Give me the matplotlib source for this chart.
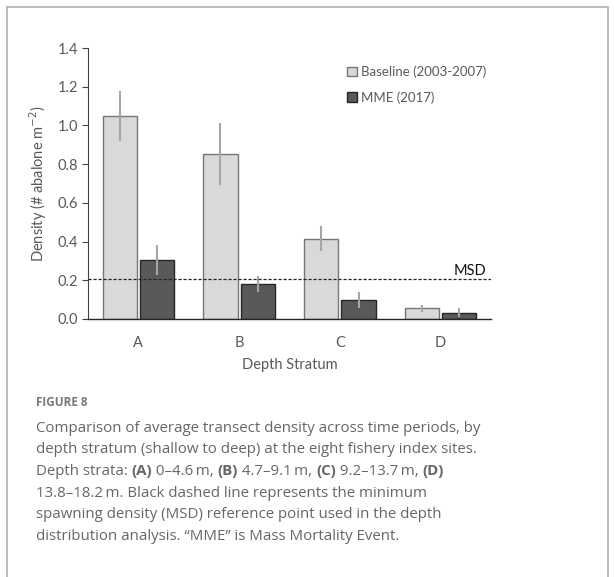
import matplotlib
matplotlib.use("Agg")
import matplotlib.pyplot as plt
import numpy as np
from matplotlib.patches import Rectangle

categories = ["A", "B", "C", "D"]
baseline = [1.05, 0.85, 0.415, 0.055]
baseline_err = [0.13, 0.16, 0.065, 0.017]
mme = [0.305, 0.18, 0.098, 0.033]
mme_err = [0.077, 0.042, 0.042, 0.022]
msd = 0.205
yticks = [0.0, 0.2, 0.4, 0.6, 0.8, 1.0, 1.2, 1.4]
series_labels = ["Baseline (2003-2007)", "MME (2017)"]

W, H = 615, 577
fig = plt.figure(figsize=(W / 100, H / 100), dpi=100)
fig.patch.set_facecolor("white")

# outer frame
fig.add_artist(Rectangle((7 / W, -0.01), (608 - 7) / W, 1 - 7 / H + 0.01,
                         transform=fig.transFigure, fill=False,
                         edgecolor="#b0b0b0", linewidth=1.2))

ax = fig.add_axes([88 / W, 1 - 319 / H, (491 - 88) / W, (319 - 48) / H])
font = "Lato"
fs = 10.5
tick_col = "#595959"

x = np.arange(len(categories))
bw = 0.34
off = 0.185
ax.bar(x - off, baseline, bw, color="#d9d9d9", edgecolor="#767676", linewidth=1.0,
       label=series_labels[0], zorder=2)
ax.bar(x + off, mme, bw, color="#595959", edgecolor="#262626", linewidth=1.0,
       label=series_labels[1], zorder=2)
ax.errorbar(x - off, baseline, yerr=baseline_err, fmt="none", ecolor="#a6a6a6",
            elinewidth=1.5, capsize=0, zorder=3)
ax.errorbar(x + off, mme, yerr=mme_err, fmt="none", ecolor="#a6a6a6",
            elinewidth=1.5, capsize=0, zorder=3)
ax.axhline(msd, color="#222222", linestyle=(0, (2.5, 1.5)), linewidth=0.9, zorder=4)
ax.text(3.45, msd + 0.006, "MSD", ha="right", va="bottom", fontsize=fs,
        family=font, color="#111111")

ax.set_xlim(-0.5, 3.5)
ax.set_ylim(0, 1.4)
ax.set_yticks(yticks)
ax.set_yticklabels([f"{v:.1f}" for v in yticks])
ax.set_xticks(x)
ax.set_xticklabels(categories)
for s in ["top", "right"]:
    ax.spines[s].set_visible(False)
ax.spines["left"].set_color("#404040")
ax.spines["bottom"].set_color("#262626")
ax.spines["left"].set_linewidth(0.8)
ax.spines["bottom"].set_linewidth(1.0)
ax.tick_params(axis="y", direction="out", length=4, width=0.8, color="#404040",
               labelsize=fs, labelcolor=tick_col, pad=3)
ax.tick_params(axis="x", length=0, labelsize=fs, labelcolor=tick_col, pad=12)
for lab in ax.get_xticklabels() + ax.get_yticklabels():
    lab.set_family(font)
ax.set_ylabel("Density (# abalone m$^{-2}$)", fontsize=fs, family=font,
              color=tick_col, labelpad=6)
ax.set_xlabel("Depth Stratum", fontsize=fs, family=font, color=tick_col, labelpad=6)

leg = ax.legend(loc="upper left", bbox_to_anchor=(0.63, 0.955), frameon=False,
                prop={"family": font, "size": 9.5}, handlelength=0.75,
                handleheight=0.75, handletextpad=0.3, labelspacing=1.0,
                borderaxespad=0)
for t in leg.get_texts():
    t.set_color(tick_col)

# caption
cap_col = "#666666"
fig.text(36 / W, 1 - 403 / H, "FIGURE 8", fontsize=8.5, family="Open Sans",
         weight="bold", color="#777777", va="center")

lines = [
    [("Comparison of average transect density across time periods, by", False)],
    [("depth stratum (shallow to deep) at the eight fishery index sites.", False)],
    [("Depth strata: ", False), ("(A)", True), (" 0\u20134.6\u2009m, ", False), ("(B)", True),
     (" 4.7\u20139.1\u2009m, ", False), ("(C)", True), (" 9.2\u201313.7\u2009m, ", False), ("(D)", True)],
    [("13.8\u201318.2\u2009m. Black dashed line represents the minimum", False)],
    [("spawning density (MSD) reference point used in the depth", False)],
    [("distribution analysis. \u201cMME\u201d is Mass Mortality Event.", False)],
]
renderer = fig.canvas.get_renderer()
y0 = 428
dy = 21.7
for i, segs in enumerate(lines):
    xp = 36
    yp = y0 + i * dy
    for txt, bold in segs:
        t = fig.text(xp / W, 1 - yp / H, txt, fontsize=10.85, family="Open Sans",
                     weight="bold" if bold else "normal", color=cap_col, va="center")
        bb = t.get_window_extent(renderer=renderer)
        xp += bb.width

fig.savefig("out.png", dpi=100, facecolor="white")
